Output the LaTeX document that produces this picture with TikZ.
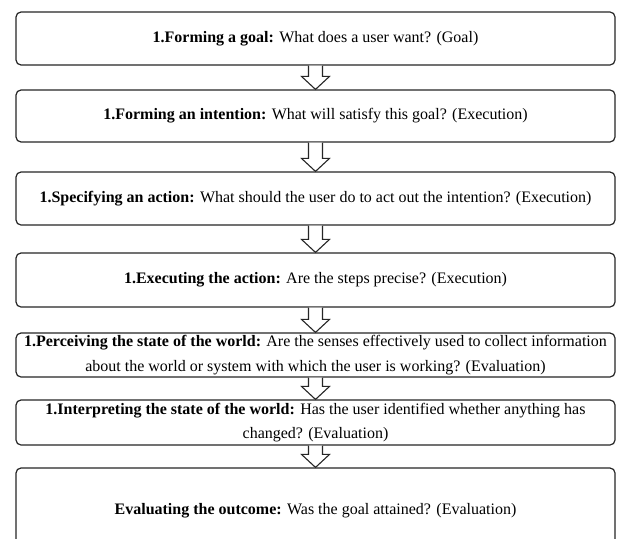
\documentclass[tikz,border=0pt]{standalone}
\usepackage{fontspec}
\setmainfont{Liberation Serif}
\usetikzlibrary{calc}
\tikzset{
  stagebox/.style={draw=black!85, line width=1.2pt, rounded corners=5pt, fill=white,
    minimum width=599pt, inner sep=0pt, align=center,
    font=\fontsize{16}{24.5}\selectfont},
  blockarrow/.style={draw=black!85, line width=1.1pt, fill=white, line join=miter}
}
\begin{document}
\begin{tikzpicture}[x=1pt,y=1pt]
\clip (0,0) rectangle (617,-538);
\fill[white] (0,0) rectangle (617,-538);
\node[stagebox, minimum height=53pt] (s1) at (315.5,-38.5) {\textbf{1.Forming a goal:} What does a user want? (Goal)};
\node[stagebox, minimum height=52pt] (s2) at (315.5,-116) {\textbf{1.Forming an intention:} What will satisfy this goal? (Execution)};
\node[stagebox, minimum height=53pt] (s3) at (315.5,-198.5) {\textbf{1.Specifying an action:} What should the user do to act out the intention? (Execution)};
\node[stagebox, minimum height=54pt] (s4) at (315.5,-280) {\textbf{1.Executing the action:} Are the steps precise? (Execution)};
\node[stagebox, minimum height=44pt] (s5) at (315.5,-355) {\textbf{1.Perceiving the state of the world:} Are the senses effectively used to collect information\\about the world or system with which the user is working? (Evaluation)};
\node[stagebox, minimum height=45pt] (s6) at (315.5,-422.5) {\textbf{1.Interpreting the state of the world:} Has the user identified whether anything has\\changed? (Evaluation)};
\node[stagebox, minimum height=86pt] (s7) at (315.5,-511) {\textbf{Evaluating the outcome:} Was the goal attained? (Evaluation)};
\foreach \a/\b in {s1/s2, s2/s3, s3/s4, s4/s5, s5/s6, s6/s7}{
  \draw[blockarrow] ($(\a.south)+(-7,0)$) -- ($(\b.north)+(-7,13)$) -- ($(\b.north)+(-14,13)$)
    -- (\b.north) -- ($(\b.north)+(14,13)$) -- ($(\b.north)+(7,13)$) -- ($(\a.south)+(7,0)$);
}
\end{tikzpicture}
\end{document}
